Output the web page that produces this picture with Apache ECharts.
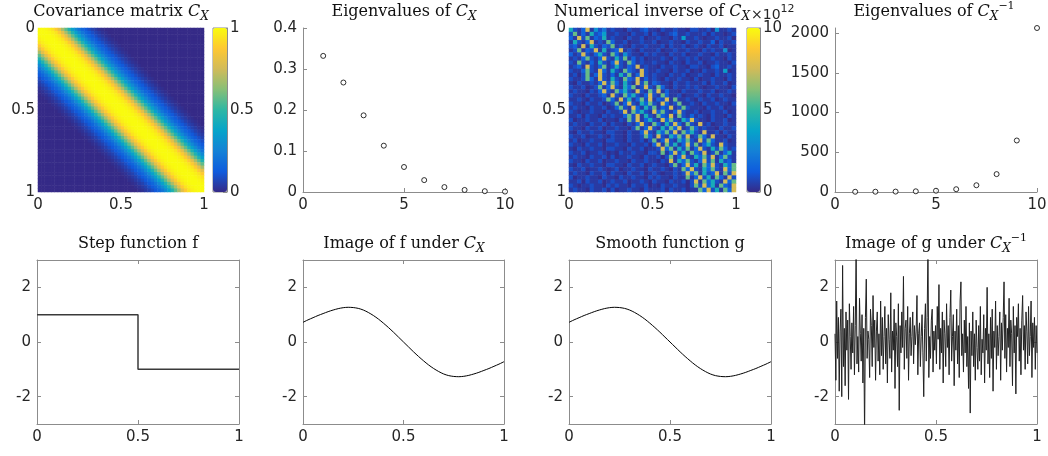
<!DOCTYPE html>
<html>
<head>
<meta charset="utf-8">
<script src="https://cdn.jsdelivr.net/npm/echarts@6/dist/echarts.min.js"></script>
<style>
html, body { margin: 0; padding: 0; background: #fff; }
#main { width: 1048px; height: 456px; }
</style>
</head>
<body>
<div id="main"></div>
<script>
// parula colour stops
const parula = ['#352a87', '#0f5cdd', '#1481d6', '#06a4ca', '#2eb7a4', '#87bf77', '#d1bb59', '#fec832', '#f9fb0e'];

// covariance against distance from the diagonal, one entry per cell (0.02)
const covProfile = [1.00, 1.00, 0.99, 0.97, 0.94, 0.88, 0.80, 0.68, 0.57, 0.46, 0.36, 0.28, 0.21, 0.16, 0.12, 0.09, 0.06, 0.04, 0.02, 0.01];
const covSize = 50;

// numerical inverse, read as a coarse 40x40 grid of levels (x 10^12)
const inverseLevels = [0.1, 0.4, 0.9, 1.5, 2.2, 3.0, 3.6, 4.3, 5.8, 7.6];
const inverseRows = [
  '7213915241211021123110211211022112051121',
  '2813172361121102112021012311211120211012',
  '3192813271211021120112110216112101121120',
  '1721391218311201121120112110211211302112',
  '2319172132812102112111202112012102112011',
  '1281329171239121021112011211211021211501',
  '3129213721831521102121102112011211021121',
  '1213821392172813120111210211212011211021',
  '2182131721392183121121102110211201121102',
  '1231921381272132912110211211022110231121',
  '2113821931721832192112110211201021121601',
  '1202813921317281392121102112011211021121',
  '2112831921721832913121021121102011211021',
  '1021121392831721928132110211211120211201',
  '2112012813921738129218310211212101121102',
  '1211021392183721921829131102111211201121',
  '2110211231921837213921831120112102112110',
  '1121021128319271382913291811210211201211',
  '2110211201281392173821931281121021121102',
  '1211021120138219317281329128211102112011',
  '2101121102112918372193821392112011211201',
  '1120211021211382917218329182131210211021',
  '2011211201102182913721938217392110211201',
  '1211021120211021392183172931821912011211',
  '2110211201121102813921728391283121102112',
  '1021121102211021139217382918372191120211',
  '2112011210211021128319217382912831911021',
  '1201121102211021120281392173821928311201',
  '2110211201121102112039182713928137219211',
  '1021121102211021120112938172813921728312',
  '2112011210102112110221813927183291281371',
  '1211021120201121102112028139217382913821',
  '2110211201121102112110219173821392817231',
  '1021121102211021120121102813927183921738',
  '2112011210120112110211210218392173821938',
  '1211021120211021120121011212938172391829',
  '2011211021102112110212110211813927183192',
  '1120211201211201121021102112029183721938',
  '2101121102121102112010211211028293718329',
  '1211021120201121102111202112011839271839'
];

const eigIndex = [1, 2, 3, 4, 5, 6, 7, 8, 9, 10];
const eigC = [0.332, 0.267, 0.187, 0.113, 0.061, 0.029, 0.012, 0.005, 0.002, 0.001];
const eigInv = [3, 3.7, 5.3, 8.8, 16, 35, 85, 225, 648, 2063];

const stepX = [0, 0.5, 0.5, 1];
const stepY = [1, 1, -1, -1];

const curveX = [0, 0.025, 0.05, 0.075, 0.1, 0.125, 0.15, 0.175, 0.2, 0.225, 0.25, 0.275, 0.3, 0.325, 0.35, 0.375, 0.4, 0.425, 0.45, 0.475, 0.5,
  0.525, 0.55, 0.575, 0.6, 0.625, 0.65, 0.675, 0.7, 0.725, 0.75, 0.775, 0.8, 0.825, 0.85, 0.875, 0.9, 0.925, 0.95, 0.975, 1];
const imageF = [0.72, 0.81, 0.89, 0.97, 1.04, 1.11, 1.17, 1.22, 1.255, 1.27, 1.26, 1.23, 1.17, 1.08, 0.97, 0.84, 0.69, 0.53, 0.36, 0.18, 0.0,
  -0.18, -0.36, -0.53, -0.69, -0.84, -0.97, -1.08, -1.17, -1.23, -1.26, -1.27, -1.255, -1.22, -1.17, -1.11, -1.04, -0.97, -0.89, -0.81, -0.72];
const smoothG = [0.72, 0.81, 0.89, 0.97, 1.04, 1.11, 1.17, 1.22, 1.255, 1.27, 1.26, 1.23, 1.17, 1.08, 0.97, 0.84, 0.69, 0.53, 0.36, 0.18, 0.0,
  -0.18, -0.36, -0.53, -0.69, -0.84, -0.97, -1.08, -1.17, -1.23, -1.26, -1.27, -1.255, -1.22, -1.17, -1.11, -1.04, -0.97, -0.89, -0.81, -0.72];

// image of g under the inverse, 240 samples over [0, 1]
const noiseG = [
  0.3, -1.4, 1.5, -0.6, 0.9, -1.8, 0.4, 1.2, -2.0, 2.8, -0.9, 0.5, -1.6, 1.1, -0.3, 0.8, -2.1, 1.4, 0.2, -1.0,
  0.7, -0.4, 1.3, -1.2, 0.6, 3.4, -0.8, 0.2, -1.1, 1.6, 0.3, -0.7, 1.0, -1.5, 0.5, -3.4, 0.9, 2.3, -0.6, 0.4,
  0.1, -1.3, 1.2, 0.6, -0.9, 1.7, -0.2, 0.8, -1.4, 0.4, 1.1, -0.7, 0.3, -1.2, 1.5, -0.5, 0.9, -1.0, 0.2, 1.3,
  -0.8, 0.5, -1.5, 1.0, 0.1, -0.6, 1.8, -1.1, 0.4, -0.3, 1.2, -1.7, 0.7, 0.2, -0.9, 1.4, -2.5, 0.6, -0.4, 1.1,
  -0.2, 2.4, -1.0, 0.5, 0.8, -0.6, 1.3, -1.4, 0.3, 0.9, -0.5, 0.2, 1.1, -0.8, 0.6, -0.1, 0.4, 1.7, -1.2, 0.3,
  0.7, -0.9, 0.2, 1.0, -0.4, -2.0, 0.5, 1.4, -0.7, 0.9, 3.5, -1.3, 0.2, -0.6, 0.8, 1.2, -1.1, 0.4, -0.3, 0.6,
  -0.8, 1.3, 0.1, 2.1, -1.0, 0.5, -0.4, 1.1, -1.5, 0.8, 0.3, -0.9, 1.4, -0.2, 0.6, -1.2, 0.9, 1.9, -0.7, 0.2,
  1.0, -1.6, 0.4, -0.3, 1.2, -0.8, 0.6, -1.3, 1.5, 2.2, -0.5, 0.3, -1.1, 0.8, -0.4, 1.3, -0.9, 0.2, -1.7, 0.7,
  -2.6, 0.4, -0.5, 1.1, -0.9, 0.3, -1.4, 0.8, -0.2, -1.0, 0.6, -0.7, 1.3, -1.2, 0.1, -0.4, 1.0, -1.5, 0.5, -0.3,
  2.0, -0.8, 0.3, -1.3, 0.9, -0.6, 1.2, -1.8, 0.4, -0.2, 1.5, -1.0, 0.6, -0.5, 0.2, 1.1, -1.4, 0.7, -0.3, 0.9,
  2.2, -0.6, 1.0, -1.1, 0.5, -0.2, 1.6, -0.9, 0.8, 0.3, -1.6, 1.3, -0.4, 0.6, -1.9, 0.9, 0.2, 1.4, -0.7, 0.5,
  -1.2, 0.8, 1.7, -0.3, 0.6, -1.0, 1.1, 0.4, -0.8, 1.3, -0.5, 0.2, 1.5, -1.3, 0.7, -0.2, 0.9, -1.0, 0.6, -0.4
];

const axisGray = '#8c8c8c';
const tickFont = { fontFamily: 'DejaVu Sans', fontSize: 15, color: '#262626' };

// tables for the heatmaps
const covCats = [];
for (let i = 0; i < covSize; i++) covCats.push(i);
const covData = [];
for (let r = 0; r < covSize; r++) {
  for (let c = 0; c < covSize; c++) {
    const v = covProfile[Math.abs(r - c)];
    covData.push([c, r, v === undefined ? 0 : v]);
  }
}
const invCats = [];
for (let i = 0; i < inverseRows.length; i++) invCats.push(i);
const invData = [];
inverseRows.forEach((row, r) => {
  for (let c = 0; c < inverseRows.length; c++) {
    invData.push([c, r, inverseLevels[+(row[c] || '1')]]);
  }
});
const noiseCats = noiseG.map((v, i) => i);

function valAxis(gridIndex, position, min, max, o) {
  o = o || {};
  return {
    type: 'value', gridIndex, position, min, max,
    interval: o.interval, inverse: !!o.inverse,
    axisLine: { show: o.line !== false, onZero: false, lineStyle: { color: axisGray, width: 1 } },
    axisTick: { show: o.line !== false, inside: true, length: 4, customValues: o.values, lineStyle: { color: axisGray } },
    axisLabel: Object.assign({ show: o.label !== false, margin: o.margin || 6, customValues: o.values,
      formatter: v => String(v) }, tickFont),
    splitLine: { show: false }
  };
}
function hiddenCat(gridIndex, position, data, o) {
  return Object.assign({ type: 'category', gridIndex, position, data, show: false }, o || {});
}
function hiddenVal(gridIndex, position, min, max) {
  return { type: 'value', gridIndex, position, min, max, show: false, splitLine: { show: false } };
}

const grids = [
  { left: 38, top: 28, width: 166, height: 164 },
  { left: 213, top: 28, width: 14, height: 164, show: true, borderColor: axisGray, borderWidth: 1, backgroundColor: 'transparent' },
  { left: 303, top: 28, width: 202, height: 164 },
  { left: 569, top: 28, width: 167, height: 164 },
  { left: 747, top: 28, width: 13, height: 164, show: true, borderColor: axisGray, borderWidth: 1, backgroundColor: 'transparent' },
  { left: 835, top: 28, width: 202, height: 164 },
  { left: 37, top: 260, width: 202, height: 164 },
  { left: 303, top: 260, width: 201, height: 164 },
  { left: 569, top: 260, width: 202, height: 164 },
  { left: 835, top: 260, width: 202, height: 164 }
].map(g => Object.assign({ containLabel: false, outerBoundsMode: 'none' }, g));

const xAxes = [
  hiddenCat(0, 'bottom', covCats),                                         // 0
  valAxis(0, 'bottom', 0, 1, { interval: 0.5, line: false }),              // 1
  hiddenVal(1, 'bottom', 0, 1),                                             // 2
  valAxis(2, 'bottom', 0, 10, { interval: 5 }),                             // 3
  hiddenCat(3, 'bottom', invCats),                                          // 4
  valAxis(3, 'bottom', 0, 1, { interval: 0.5, line: false }),              // 5
  hiddenVal(4, 'bottom', 0, 1),                                             // 6
  valAxis(5, 'bottom', 0, 10, { interval: 5 }),                             // 7
  valAxis(6, 'bottom', 0, 1, { interval: 0.5 }),                            // 8
  valAxis(6, 'top', 0, 1, { interval: 0.5, label: false }),                 // 9
  valAxis(7, 'bottom', 0, 1, { interval: 0.5 }),                            // 10
  valAxis(7, 'top', 0, 1, { interval: 0.5, label: false }),                 // 11
  valAxis(8, 'bottom', 0, 1, { interval: 0.5 }),                            // 12
  valAxis(8, 'top', 0, 1, { interval: 0.5, label: false }),                 // 13
  hiddenCat(9, 'bottom', noiseCats, { boundaryGap: false }),                // 14
  valAxis(9, 'bottom', 0, 1, { interval: 0.5 }),                            // 15
  valAxis(9, 'top', 0, 1, { interval: 0.5, label: false })                  // 16
];
const yAxes = [
  hiddenCat(0, 'left', covCats, { inverse: true }),                         // 0
  valAxis(0, 'left', 0, 1, { interval: 0.5, inverse: true, line: false, margin: 3 }), // 1
  valAxis(1, 'right', 0, 1, { interval: 0.5, margin: 3 }),                  // 2
  valAxis(2, 'left', 0, 0.4, { interval: 0.1 }),                            // 3
  hiddenCat(3, 'left', invCats, { inverse: true }),                         // 4
  valAxis(3, 'left', 0, 1, { interval: 0.5, inverse: true, line: false, margin: 3 }), // 5
  valAxis(4, 'right', 0, 10, { interval: 5, margin: 3 }),                   // 6
  valAxis(5, 'left', 0, 2063, { values: [0, 500, 1000, 1500, 2000] }),      // 7
  valAxis(6, 'left', -3, 3, { values: [-2, 0, 2] }),                        // 8
  valAxis(6, 'right', -3, 3, { values: [-2, 0, 2], label: false }),         // 9
  valAxis(7, 'left', -3, 3, { values: [-2, 0, 2] }),                        // 10
  valAxis(7, 'right', -3, 3, { values: [-2, 0, 2], label: false }),         // 11
  valAxis(8, 'left', -3, 3, { values: [-2, 0, 2] }),                        // 12
  valAxis(8, 'right', -3, 3, { values: [-2, 0, 2], label: false }),         // 13
  valAxis(9, 'left', -3, 3, { values: [-2, 0, 2] }),                        // 14
  valAxis(9, 'right', -3, 3, { values: [-2, 0, 2], label: false })          // 15
];

const hollow = { color: '#fff', borderColor: '#000', borderWidth: 1 };
const series = [
  { type: 'heatmap', xAxisIndex: 0, yAxisIndex: 0, data: covData, progressive: 0, emphasis: { disabled: true } },
  { type: 'heatmap', xAxisIndex: 4, yAxisIndex: 4, data: invData, progressive: 0, emphasis: { disabled: true } },
  { type: 'scatter', xAxisIndex: 3, yAxisIndex: 3, symbolSize: 5, itemStyle: hollow,
    data: eigIndex.map((k, i) => [k, eigC[i]]) },
  { type: 'scatter', xAxisIndex: 7, yAxisIndex: 7, symbolSize: 5, itemStyle: hollow,
    data: eigIndex.map((k, i) => [k, eigInv[i]]) },
  { type: 'line', xAxisIndex: 8, yAxisIndex: 8, showSymbol: false, lineStyle: { color: '#3a3a3a', width: 1.5 },
    data: stepX.map((x, i) => [x, stepY[i]]) },
  { type: 'line', xAxisIndex: 10, yAxisIndex: 10, showSymbol: false, smooth: 0.3, lineStyle: { color: '#000', width: 1 },
    data: curveX.map((x, i) => [x, imageF[i]]) },
  { type: 'line', xAxisIndex: 12, yAxisIndex: 12, showSymbol: false, smooth: 0.3, lineStyle: { color: '#000', width: 1 },
    data: curveX.map((x, i) => [x, smoothG[i]]) },
  { type: 'line', xAxisIndex: 14, yAxisIndex: 14, showSymbol: false, lineStyle: { color: '#222', width: 1 },
    data: noiseG }
];

const serif = 'DejaVu Serif';
const rich = {
  n: { fontFamily: serif, fontSize: 16, lineHeight: 22, fill: '#111' },
  c: { fontFamily: serif, fontStyle: 'italic', fontSize: 16, lineHeight: 22, fill: '#111' },
  x: { fontFamily: serif, fontStyle: 'italic', fontSize: 12, lineHeight: 13, verticalAlign: 'bottom', fill: '#111' },
  s: { fontFamily: serif, fontSize: 11, lineHeight: 11, verticalAlign: 'top', fill: '#111' }
};
function title(text, x, y) {
  return { type: 'text', x, y, silent: true, style: { text, rich, align: 'center', verticalAlign: 'top' } };
}

const chart = echarts.init(document.getElementById('main'));
chart.setOption({
  animation: false,
  grid: grids,
  xAxis: xAxes,
  yAxis: yAxes,
  visualMap: [
    { type: 'continuous', seriesIndex: 0, min: 0, max: 1, left: 213, top: 28, itemWidth: 14, itemHeight: 164,
      padding: 0, calculable: false, hoverLink: false, inRange: { color: parula } },
    { type: 'continuous', seriesIndex: 1, min: 0, max: 10, left: 747, top: 28, itemWidth: 13, itemHeight: 164,
      padding: 0, calculable: false, hoverLink: false, inRange: { color: parula } }
  ],
  graphic: [
    title('{n|Covariance matrix }{c|C}{x|X}', 121, 1),
    title('{n|Eigenvalues of }{c|C}{x|X}', 404, 1),
    title('{n|Numerical inverse of }{c|C}{x|X}', 652, 1),
    title('{n|Eigenvalues of }{c|C}{x|X}{s|−1}', 934, 1),
    title('{n|Step function f}', 138, 233),
    title('{n|Image of f under }{c|C}{x|X}', 404, 233),
    title('{n|Smooth function g}', 670, 233),
    title('{n|Image of g under }{c|C}{x|X}{s|−1}', 936, 233),
    { type: 'text', x: 751, y: 4, silent: true, style: {
      text: '{a|×10}{b|12}',
      rich: {
        a: { fontFamily: 'DejaVu Sans', fontSize: 14, lineHeight: 18, verticalAlign: 'bottom', fill: '#262626' },
        b: { fontFamily: 'DejaVu Sans', fontSize: 11, lineHeight: 11, verticalAlign: 'top', fill: '#262626' }
      } } }
  ],
  series
});
</script>
</body>
</html>
